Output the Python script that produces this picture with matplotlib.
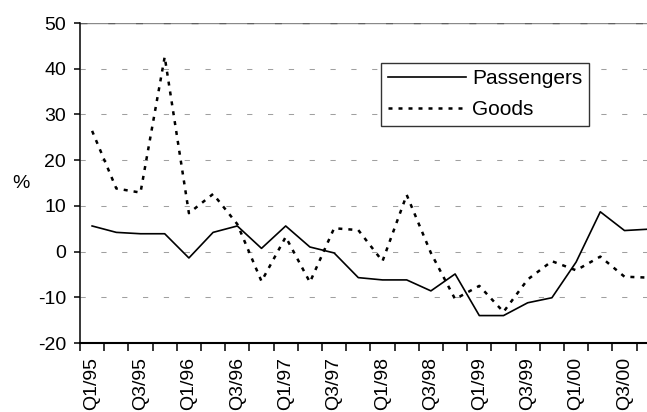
import matplotlib
matplotlib.use('Agg')
import matplotlib.pyplot as plt
import numpy as np

plt.rcParams['font.family'] = ['Liberation Sans', 'DejaVu Sans']
plt.rcParams['axes.unicode_minus'] = False

# quarters Q1/95 .. Q4/00
quarters = ['Q%d/%02d' % (q, y) for y in [95, 96, 97, 98, 99, 0] for q in [1, 2, 3, 4]]

passengers = [5.6, 4.2, 3.9, 3.9, -1.4, 4.2, 5.6, 0.7, 5.6, 1.0, -0.3, -5.7,
              -6.2, -6.2, -8.6, -4.9, -14.0, -14.0, -11.2, -10.1, -2.3, 8.7, 4.6, 4.9]
goods = [26.4, 13.8, 12.9, 42.6, 8.4, 12.6, 6.0, -6.5, 3.2, -6.7, 5.1, 4.7,
         -2.1, 12.4, -0.3, -10.4, -7.5, -13.2, -6.1, -2.1, -4.1, -1.1, -5.5, -5.7]

x = np.arange(len(quarters))

fig = plt.figure(figsize=(6.47, 4.12), dpi=100)
ax = fig.add_axes([80 / 647, 69 / 412, 580.8 / 647, 320 / 412])

# grid
for v in [-10, 0, 10, 20, 30, 40]:
    ax.axhline(v, color='#a0a0a0', lw=0.75, linestyle=(0, (5, 15)), zorder=1)
ax.axhline(50, color='#8a8a8a', lw=1.0, zorder=1)
ax.axhline(50, color='#606060', lw=1.0, linestyle=(0, (5, 15)), zorder=1)

ax.plot(x, passengers, color='black', lw=1.2, label='Passengers', zorder=3)
ax.plot(x, goods, color='black', lw=1.8, linestyle=(0, (1.6, 2.4)), label='Goods', zorder=3)

ax.set_xlim(-0.5, 23.5)
ax.set_ylim(-20, 50)
ax.set_yticks(np.arange(-20, 51, 10))

ax.set_xticks(x[::2])
ax.set_xticklabels(quarters[::2], rotation=90)
ax.set_xticks(np.arange(-0.5, 23.6, 1), minor=True)
ax.tick_params(axis='x', which='major', length=0, pad=10, labelsize=14)
ax.tick_params(axis='x', which='minor', length=6, width=1.1, direction='out')
ax.tick_params(axis='y', length=4, width=1.1, direction='out', pad=6, labelsize=14)

for s in ['top', 'right']:
    ax.spines[s].set_visible(False)
ax.spines['left'].set_linewidth(1.1)
ax.spines['bottom'].set_linewidth(1.5)

fig.text(21 / 647, 1 - 183 / 412, '%', fontsize=14, ha='center', va='center')

leg = ax.legend(loc='upper left', bbox_to_anchor=(0.519, 0.876), borderaxespad=0,
                fontsize=15, handlelength=3.75, handletextpad=0.3, labelspacing=0.6,
                borderpad=0.3, fancybox=False, framealpha=1, edgecolor='#333333')
leg.get_frame().set_linewidth(1.0)

fig.savefig('out.png', dpi=100)
